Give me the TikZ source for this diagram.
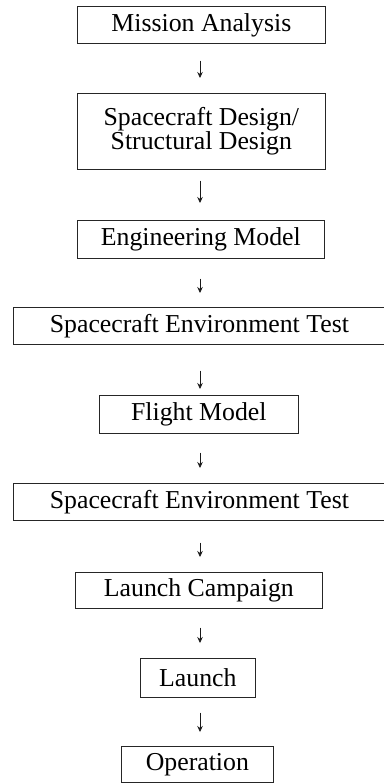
\documentclass[tikz,border=0pt]{standalone}
\usepackage{fontspec}
\setmainfont{Liberation Serif}
\usetikzlibrary{arrows.meta}
\tikzset{
  box/.style={draw=black!85, line width=0.7pt, inner sep=0pt, anchor=north west,
    font=\fontsize{25.8}{22}\selectfont, align=center},
  arr/.style={draw=black!90, line width=0.7pt, -{Stealth[length=6pt,width=5.5pt]}}
}
\begin{document}
\begin{tikzpicture}[x=1pt,y=1pt]
\useasboundingbox (0,0) rectangle (383,-784);
\coordinate (ax) at (200,0);
\node[box, minimum width=248pt, minimum height=37pt] (b1) at (77,-6) {Mission Analysis};
\node[box, minimum width=248pt, minimum height=76pt] (b2) at (77,-93) {Spacecraft Design/\\Structural Design};
\node[box, minimum width=247pt, minimum height=38pt] (b3) at (77,-220) {Engineering Model};
\node[box, minimum width=372pt, minimum height=37pt] (b4) at (13,-307) {Spacecraft Environment Test};
\node[box, minimum width=199pt, minimum height=38pt] (b5) at (99,-395) {Flight Model};
\node[box, minimum width=372pt, minimum height=37pt] (b6) at (13,-483) {Spacecraft Environment Test};
\node[box, minimum width=247pt, minimum height=36pt] (b7) at (75,-572) {Launch Campaign};
\node[box, minimum width=115pt, minimum height=39pt] (b8) at (140,-658) {Launch};
\node[box, minimum width=152pt, minimum height=36pt] (b9) at (121,-746) {Operation};
\draw[arr, shorten <=17pt, shorten >=15pt] (b1.south -| ax) -- (b2.north -| ax);
\draw[arr, shorten <=11pt, shorten >=17pt] (b2.south -| ax) -- (b3.north -| ax);
\draw[arr, shorten <=20pt, shorten >=14pt] (b3.south -| ax) -- (b4.north -| ax);
\draw[arr, shorten <=26pt, shorten >=6pt] (b4.south -| ax) -- (b5.north -| ax);
\draw[arr, shorten <=19pt, shorten >=15pt] (b5.south -| ax) -- (b6.north -| ax);
\draw[arr, shorten <=22pt, shorten >=15pt] (b6.south -| ax) -- (b7.north -| ax);
\draw[arr, shorten <=19pt, shorten >=15pt] (b7.south -| ax) -- (b8.north -| ax);
\draw[arr, shorten <=15pt, shorten >=14pt] (b8.south -| ax) -- (b9.north -| ax);
\end{tikzpicture}
\end{document}
